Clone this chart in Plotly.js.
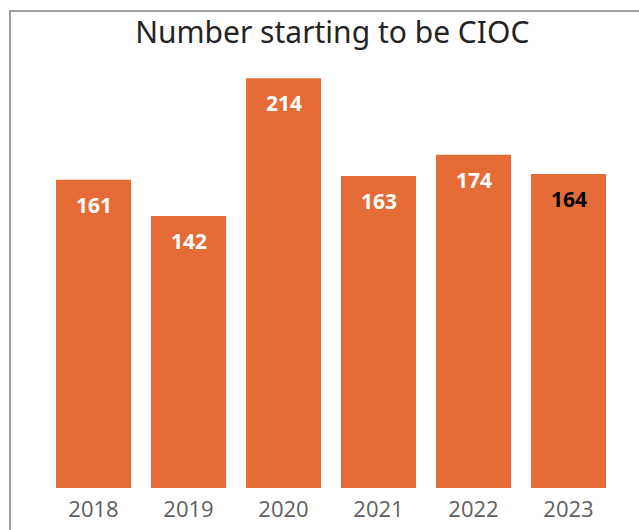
<!DOCTYPE html>
<html>
<head>
<meta charset="utf-8">
<script src="https://cdn.plot.ly/plotly-3.0.1.min.js"></script>
<style>
html,body{margin:0;padding:0;background:#fff;}
#wrap{position:relative;width:639px;height:530px;overflow:hidden;}
#chart{width:639px;height:530px;}
#frame{position:absolute;left:9px;top:10px;right:-5px;bottom:-5px;border-left:2px solid #a0a0a0;border-top:2px solid #a0a0a0;pointer-events:none;}
</style>
</head>
<body>
<div id="wrap"><div id="chart"></div><div id="frame"></div></div>
<script>
const years = [2018, 2019, 2020, 2021, 2022, 2023];
const yearLabels = ['2018','2019','2020','2021','2022','2023'];
const counts = [161, 142, 214, 163, 174, 164];
const labelColors = ['#ffffff','#ffffff','#ffffff','#ffffff','#ffffff','#000000'];

const trace = {
  type: 'bar',
  x: years,
  y: counts,
  width: 0.79,
  marker: {color: '#E56C37', line: {width: 0}},
  hoverinfo: 'none'
};

const annotations = years.map((yr, i) => ({
  x: yr, y: counts[i], xref: 'x', yref: 'y',
  text: '<b>' + counts[i] + '</b>',
  showarrow: false, yanchor: 'middle', yshift: -25,
  font: {family: 'Open Sans, sans-serif', size: 21, color: labelColors[i]}
}));

const layout = {
  width: 639, height: 530,
  margin: {l: 46, r: 23, t: 70, b: 42},
  paper_bgcolor: '#ffffff', plot_bgcolor: '#ffffff',
  showlegend: false,
  title: {text: 'Number starting to be CIOC', x: 0.52, xanchor: 'center', y: 0.938, yanchor: 'middle',
          font: {family: 'Noto Sans, sans-serif', size: 30, color: '#252423'}},
  xaxis: {type: 'linear', range: [2017.5, 2023.5], tickmode: 'array', tickvals: years, ticktext: yearLabels,
          showgrid: false, zeroline: false, showline: false, ticks: '', ticklabelstandoff: 6,
          tickfont: {family: 'Open Sans, sans-serif', size: 22, color: '#605E5C'}},
  yaxis: {range: [0, 218.3], visible: false, showgrid: false, zeroline: false},
  annotations: annotations
};

Plotly.newPlot('chart', [trace], layout, {displayModeBar: false, staticPlot: true});
</script>
</body>
</html>
